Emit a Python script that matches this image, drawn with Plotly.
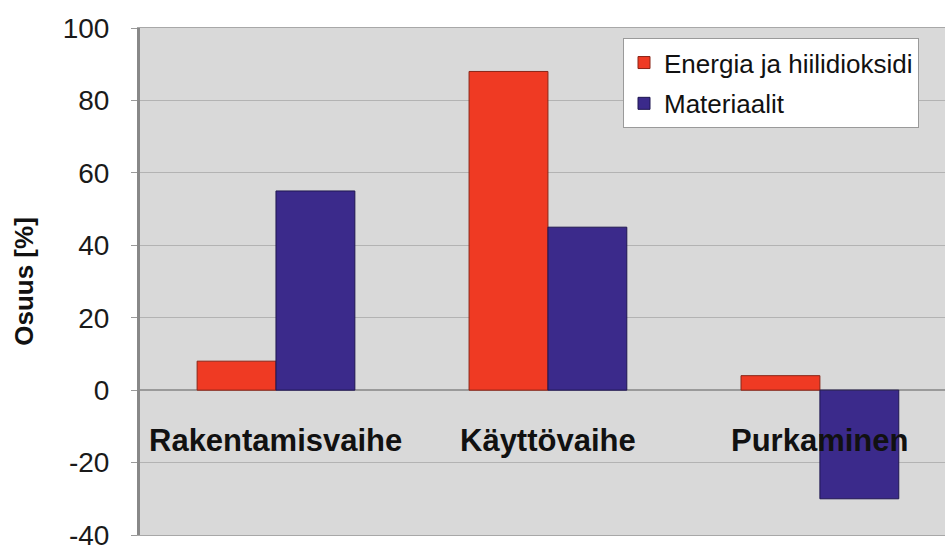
import plotly.graph_objects as go

# Life-cycle phases and each impact's share of the total, in percent
phases = ["Rakentamisvaihe", "Käyttövaihe", "Purkaminen"]
energia = [8, 88, 4]
materiaalit = [55, 45, -30]
series_names = ["Energia ja hiilidioksidi", "Materiaalit"]
y_ticks = [-40, -20, 0, 20, 40, 60, 80, 100]
y_tick_text = ["-40", "-20", "0", "20", "40", "60", "80", "100"]

red_fill, red_edge = "#ef3a23", "#8a2416"
blue_fill, blue_edge = "#3b2a8b", "#1f1650"

fig = go.Figure()
fig.add_trace(go.Bar(
    x=phases, y=energia, name=series_names[0], legendgroup="a",
    marker=dict(color=red_fill, line=dict(color=red_edge, width=1)),
))
fig.add_trace(go.Bar(
    x=phases, y=materiaalit, name=series_names[1], legendgroup="b",
    marker=dict(color=blue_fill, line=dict(color=blue_edge, width=1)),
))

# Phase names sit inside the plot just under the zero line, over the bars
for p in phases:
    fig.add_annotation(
        x=p, y=-13.8, xref="x", yref="y", text=p, showarrow=False,
        font=dict(family="Liberation Sans, Arial, sans-serif", size=31,
                  color="#111111", weight="bold"),
        xanchor="center", yanchor="middle",
    )

# Rotated y-axis title
fig.add_annotation(
    x=-0.145, y=0.5, xref="paper", yref="paper", text="<b>Osuus [%]</b>",
    showarrow=False, textangle=-90,
    font=dict(family="Liberation Sans, Arial, sans-serif", size=26, color="#111111"),
    xanchor="center", yanchor="middle",
)

fig.update_layout(
    width=950, height=545,
    margin=dict(l=140, r=5, t=28, b=10, autoexpand=False),
    paper_bgcolor="white",
    plot_bgcolor="#d9d9d9",
    barmode="group", bargap=0.42, bargroupgap=0,
    font=dict(family="Liberation Sans, Arial, sans-serif", color="#222222"),
    showlegend=True,
    legend=dict(
        x=0.600, y=0.980, xanchor="left", yanchor="top",
        bgcolor="white", bordercolor="#9a9a9a", borderwidth=1,
        font=dict(size=26, color="#111111"),
        tracegroupgap=4, traceorder="grouped",
    ),
    xaxis=dict(
        range=[-0.5, 2.46], showticklabels=False, ticks="",
        showgrid=False, zeroline=False, automargin=False,
        showline=True, linecolor="#a8a8a8", linewidth=1, mirror=True,
    ),
    yaxis=dict(
        range=[-40, 100], tickvals=y_ticks, ticktext=y_tick_text,
        tickfont=dict(size=28, color="#1a1a1a"),
        ticks="outside", ticklen=6, tickcolor="#9a9a9a",
        ticklabelstandoff=16, ticklabeloverflow="allow", automargin=False,
        showgrid=True, gridcolor="#b3b3b3", gridwidth=1,
        zeroline=True, zerolinecolor="#9a9a9a", zerolinewidth=2,
        showline=True, linecolor="#888888", linewidth=3,
    ),
)

fig.write_html("out.html")
